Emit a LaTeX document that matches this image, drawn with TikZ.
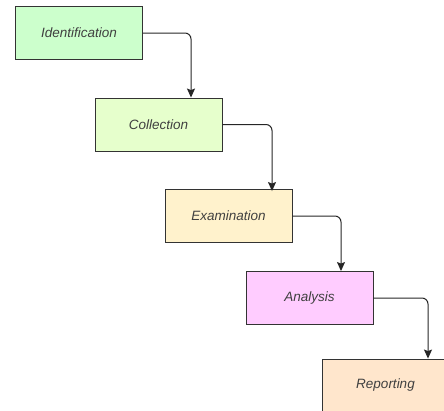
\documentclass[tikz,border=0pt]{standalone}
\usepackage{fontspec}
\setmainfont{Liberation Sans}
\usepackage{xcolor}
\usetikzlibrary{arrows.meta}

\definecolor{idgreen}{HTML}{CCFFCC}
\definecolor{colgreen}{HTML}{E6FFCC}
\definecolor{examyellow}{HTML}{FFF2CC}
\definecolor{anapink}{HTML}{FFCCFF}
\definecolor{reporange}{HTML}{FFE6CC}

\tikzset{
	stagebox/.style={draw=black!80, line width=0.9pt, minimum width=127pt, minimum height=53pt,
		inner sep=0pt, text=black!75, font=\fontsize{13.5}{16}\selectfont\itshape},
	flowarrow/.style={draw=black!85, line width=1pt, rounded corners=6pt,
		-{Stealth[length=9pt,width=8pt,inset=1.5pt]}}
}

\begin{document}
\begin{tikzpicture}[x=1pt, y=-1pt]
		% Frame of the picture
		\clip (0,0) rectangle (444,410);
		\useasboundingbox (0,0) rectangle (444,410);

		% Stages
		\node[stagebox, fill=idgreen] (ident) at (79,33) {Identification};
		\node[stagebox, fill=colgreen] (collect) at (158.5,124.5) {Collection};
		\node[stagebox, fill=examyellow] (exam) at (228.5,216) {Examination};
		\node[stagebox, fill=anapink] (anal) at (309.5,298) {Analysis};
		\node[stagebox, fill=reporange] (report) at (385.5,385.5) {Reporting};

		% Arrows between the stages
		\draw[flowarrow] (ident.east) -| ([xshift=32.5pt]collect.north);
		\draw[flowarrow] (collect.east) -| ([xshift=43.5pt, yshift=-2pt]exam.north);
		\draw[flowarrow] (exam.east) -| ([xshift=31.5pt]anal.north);
		\draw[flowarrow] (anal.east) -| ([xshift=42.5pt]report.north);
	\end{tikzpicture}
\end{document}
